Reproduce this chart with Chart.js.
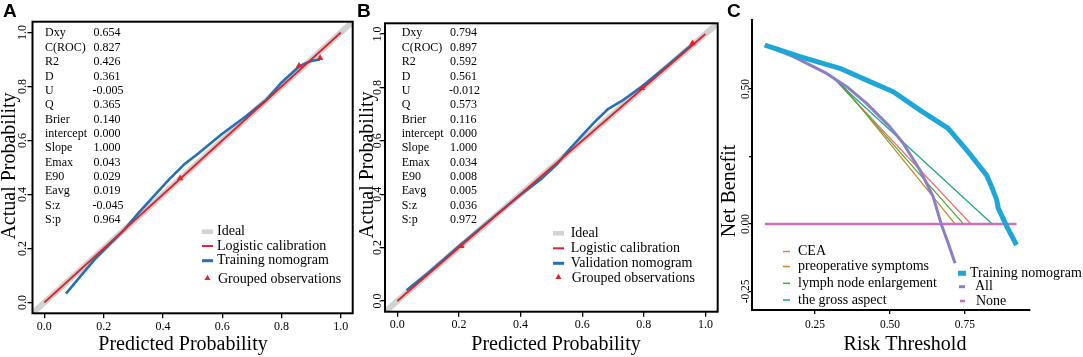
<!DOCTYPE html>
<html><head><meta charset="utf-8">
<script src="https://cdn.jsdelivr.net/npm/chart.js@4/dist/chart.umd.min.js"></script>
<style>
html,body{margin:0;padding:0;background:#fff;width:1083px;height:357px;overflow:hidden}
canvas{position:absolute;left:0;top:0}
</style></head><body>
<canvas id="cA" width="1083" height="357"></canvas>
<canvas id="cB" width="1083" height="357"></canvas>
<canvas id="cC" width="1083" height="357"></canvas>
<script>
// ================= DATA =================
// Calibration panels (A, B)
const probTicks = [0, 0.2, 0.4, 0.6, 0.8, 1.0];
const probTickLabels = ['0.0', '0.2', '0.4', '0.6', '0.8', '1.0'];
const idealPred = [-0.04, 1.04];
const idealObs = [-0.04, 1.04];
const logisticPred = [0, 1];
const logisticObs = [0, 1];

const statNames = ['Dxy', 'C(ROC)', 'R2', 'D', 'U', 'Q', 'Brier', 'intercept', 'Slope', 'Emax', 'E90', 'Eavg', 'S:z', 'S:p'];
const statsTraining = ['0.654', '0.827', '0.426', '0.361', '-0.005', '0.365', '0.140', '0.000', '1.000', '0.043', '0.029', '0.019', '-0.045', '0.964'];
const statsValidation = ['0.794', '0.897', '0.592', '0.561', '-0.012', '0.573', '0.116', '0.000', '1.000', '0.034', '0.008', '0.005', '0.036', '0.972'];

const trainPred = [0.073, 0.12, 0.17, 0.22, 0.27, 0.32, 0.37, 0.42, 0.47, 0.52, 0.60, 0.68, 0.75, 0.80, 0.86, 0.90, 0.93];
const trainObs  = [0.033, 0.095, 0.16, 0.215, 0.27, 0.335, 0.395, 0.455, 0.51, 0.553, 0.625, 0.69, 0.752, 0.815, 0.875, 0.895, 0.90];
const trainGroupPred = [0.458, 0.859, 0.93];
const trainGroupObs  = [0.46, 0.877, 0.905];

const validPred = [0.03, 0.10, 0.20, 0.30, 0.40, 0.47, 0.52, 0.56, 0.60, 0.64, 0.685, 0.73, 0.79, 0.87, 0.96];
const validObs  = [0.04, 0.105, 0.205, 0.302, 0.398, 0.46, 0.515, 0.57, 0.62, 0.67, 0.72, 0.75, 0.80, 0.875, 0.963];
const validGroupPred = [0.208, 0.794, 0.958];
const validGroupObs  = [0.206, 0.797, 0.965];

const legendA = ['Ideal', 'Logistic calibration', 'Training nomogram', 'Grouped observations'];
const legendB = ['Ideal', 'Logistic calibration', 'Validation nomogram', 'Grouped observations'];

// Decision curve panel (C)
const thrTicks = [0.25, 0.5, 0.75];
const thrTickLabels = ['0.25', '0.50', '0.75'];
const nbTicks = [-0.25, 0, 0.25, 0.5];
const nbTickLabels = ['-0.25', '0.00', '', '0.50'];

const nomoThr = [0.083, 0.20, 0.333, 0.422, 0.511, 0.60, 0.694, 0.756, 0.822, 0.839, 0.856, 0.861, 0.89, 0.922];
const nomoNB  = [0.663, 0.62, 0.577, 0.533, 0.49, 0.422, 0.354, 0.274, 0.181, 0.138, 0.089, 0.058, -0.01, -0.078];
const allThr = [0.083, 0.178, 0.289, 0.356, 0.422, 0.50, 0.544, 0.60, 0.644, 0.672, 0.694, 0.717];
const allNB  = [0.663, 0.62, 0.558, 0.509, 0.447, 0.36, 0.299, 0.20, 0.101, -0.004, -0.071, -0.146];
const noneThr = [0.083, 0.922];
const noneNB  = [0, 0];
const ceaThr = [0.083, 0.178, 0.289, 0.31, 0.77];
const ceaNB  = [0.663, 0.62, 0.558, 0.543, 0];
const preopThr = [0.083, 0.178, 0.289, 0.335, 0.717];
const preopNB  = [0.663, 0.62, 0.558, 0.524, 0];
const lymphThr = [0.083, 0.178, 0.289, 0.32, 0.745];
const lymphNB  = [0.663, 0.62, 0.558, 0.535, 0];
const grossThr = [0.083, 0.178, 0.289, 0.30, 0.841];
const grossNB  = [0.663, 0.62, 0.558, 0.552, 0];

const dcaNames = ['CEA', 'preoperative symptoms', 'lymph node enlargement', 'the gross aspect', 'Training nomogram', 'All', 'None'];

// ================= STYLE / HELPERS =================
const SERIF = "'Liberation Serif', 'DejaVu Serif', serif";
const SANS = "'Liberation Sans', Arial, sans-serif";
const RED = '#e0232b', BLUE = '#2470b5', GRAY = '#d2d2d2';
const C_COL = ['#ea776f', '#c28a2a', '#4faa3a', '#1faa82', '#1ea6d6', '#8b7fc8', '#cf6cc6'];

Chart.defaults.font.family = SERIF;
Chart.defaults.color = '#000';

const zip = (xs, ys) => xs.map((x, i) => ({x: x, y: ys[i]}));

function lineDs(label, xs, ys, color, width) {
  return {label, data: zip(xs, ys), showLine: true, borderColor: color, borderWidth: width,
          pointRadius: 0, fill: false, tension: 0, borderCapStyle: 'butt', borderJoinStyle: 'round'};
}
function triDs(label, xs, ys) {
  return {label, data: zip(xs, ys), showLine: false, pointStyle: 'triangle', pointRadius: 3.8,
          backgroundColor: RED, borderColor: RED, borderWidth: 0};
}

function drawTri(ctx, x, y, r) {
  ctx.beginPath();
  ctx.moveTo(x, y - r);
  ctx.lineTo(x + r * 0.866, y + r * 0.5);
  ctx.lineTo(x - r * 0.866, y + r * 0.5);
  ctx.closePath();
  ctx.fill();
}

function makeDeco(cfg) {
  return {
    id: 'deco' + cfg.key,
    afterDraw(chart) {
      const ctx = chart.ctx, ca = chart.chartArea;
      ctx.save();
      if (cfg.box) {
        ctx.strokeStyle = '#000'; ctx.lineWidth = 2;
        ctx.strokeRect(ca.left, ca.top, ca.right - ca.left, ca.bottom - ca.top);
      }
      ctx.fillStyle = '#000';
      // rotated y tick labels
      const ys = chart.scales.y;
      ctx.font = cfg.yTickFont + 'px ' + SERIF;
      ctx.textAlign = 'center'; ctx.textBaseline = 'middle';
      cfg.yTicks.forEach((v, i) => {
        const lab = cfg.yTickLabels[i];
        if (!lab) return;
        const py = ys.getPixelForValue(v);
        ctx.save(); ctx.translate(cfg.yTickX, py); ctx.rotate(-Math.PI / 2);
        ctx.fillText(lab, 0, 0); ctx.restore();
      });
      // axis titles
      ctx.font = '20px ' + SERIF;
      ctx.fillText(cfg.xTitle[0], cfg.xTitle[1], cfg.xTitle[2]);
      ctx.save(); ctx.translate(cfg.yTitle[1], cfg.yTitle[2]); ctx.rotate(-Math.PI / 2);
      ctx.fillText(cfg.yTitle[0], 0, 0); ctx.restore();
      // panel letter
      ctx.font = 'bold 19px ' + SANS; ctx.textAlign = 'left'; ctx.textBaseline = 'alphabetic';
      ctx.fillText(cfg.letter[0], cfg.letter[1], cfg.letter[2]);
      // stats table
      if (cfg.stats) {
        const s = cfg.stats;
        ctx.font = '12px ' + SERIF; ctx.textBaseline = 'middle'; ctx.textAlign = 'left';
        s.names.forEach((n, i) => {
          const y = s.y0 + i * s.dy;
          ctx.fillText(n, s.xName, y);
          ctx.fillText(s.values[i], s.xVal - (s.values[i][0] === '-' ? 1 : 0), y);
        });
      }
      // legend
      ctx.font = '14px ' + SERIF; ctx.textBaseline = 'middle'; ctx.textAlign = 'left';
      cfg.legend.forEach(it => {
        ctx.fillStyle = it.color; ctx.strokeStyle = it.color;
        if (it.kind === 'tri') {
          drawTri(ctx, (it.x1 + it.x2) / 2, it.y, 3.5);
        } else {
          ctx.lineWidth = it.w; ctx.lineCap = 'butt';
          ctx.beginPath(); ctx.moveTo(it.x1, it.y); ctx.lineTo(it.x2, it.y); ctx.stroke();
        }
        ctx.fillStyle = '#000';
        ctx.fillText(it.text, it.tx, it.ty);
      });
      ctx.restore();
    }
  };
}

function gridOpts(len) {
  return {drawOnChartArea: false, drawTicks: true, tickLength: len, color: '#000', tickColor: '#000', lineWidth: 1.3};
}

function calibChart(id, key, area, datasets, deco) {
  return new Chart(document.getElementById(id), {
    type: 'scatter',
    data: {datasets},
    options: {
      responsive: false, animation: false, devicePixelRatio: 1, events: [],
      layout: {padding: {left: area.left - 8, right: 1083 - area.right, top: area.top, bottom: 0}},
      plugins: {legend: {display: false}, tooltip: {enabled: false}},
      scales: {
        x: {type: 'linear', min: -0.04, max: 1.04,
            afterBuildTicks: s => { s.ticks = probTicks.map(v => ({value: v})); },
            afterFit: s => { s.height = 357 - area.bottom; },
            ticks: {font: {size: 12, family: SERIF, lineHeight: 1.2}, color: '#000', padding: 1, maxRotation: 0, minRotation: 0, autoSkip: false,
                    callback: (v) => probTickLabels[probTicks.indexOf(v)] ?? ''},
            grid: gridOpts(5), border: {display: false}},
        y: {type: 'linear', min: -0.04, max: 1.04,
            afterBuildTicks: s => { s.ticks = probTicks.map(v => ({value: v})); },
            afterFit: s => { s.width = 8; },
            ticks: {display: false},
            grid: gridOpts(area.tick), border: {display: false}}
      }
    },
    plugins: [makeDeco(deco)]
  });
}

function calibLegend(names, x1, x2, tx, ys) {
  return [
    {text: names[0], color: GRAY, kind: 'line', w: 4.5, x1, x2, y: ys[0], tx, ty: ys[0]},
    {text: names[1], color: RED, kind: 'line', w: 2, x1, x2, y: ys[1], tx, ty: ys[1]},
    {text: names[2], color: BLUE, kind: 'line', w: 3, x1, x2, y: ys[2], tx, ty: ys[2]},
    {text: names[3], color: RED, kind: 'tri', x1, x2, y: ys[3] - 1, tx: tx + 1, ty: ys[3]}
  ];
}

// ---------- Panel A ----------
calibChart('cA', 'A', {left: 32.5, right: 352.7, top: 21.7, bottom: 313.3, tick: 5}, [
  triDs(legendA[3], trainGroupPred, trainGroupObs),
  lineDs(legendA[1], logisticPred, logisticObs, RED, 1.8),
  lineDs(legendA[2], trainPred, trainObs, BLUE, 2.6),
  lineDs(legendA[0], idealPred, idealObs, GRAY, 6)
], {
  key: 'A', box: true, yTicks: probTicks, yTickLabels: probTickLabels, yTickX: 22.5, yTickFont: 12,
  xTitle: ['Predicted Probability', 183, 345], yTitle: ['Actual Probability', 10, 166],
  letter: ['A', 3, 17],
  stats: {names: statNames, values: statsTraining, xName: 45, xVal: 93.5, y0: 33.3, dy: 14.36},
  legend: calibLegend(legendA, 202, 213, 217, [231.7, 246, 260.7, 279.3])
});

// ---------- Panel B ----------
calibChart('cB', 'B', {left: 385, right: 717.7, top: 23.3, bottom: 311.7, tick: 4}, [
  triDs(legendB[3], validGroupPred, validGroupObs),
  lineDs(legendB[1], logisticPred, logisticObs, RED, 1.8),
  lineDs(legendB[2], validPred, validObs, BLUE, 2.6),
  lineDs(legendB[0], idealPred, idealObs, GRAY, 6)
], {
  key: 'B', box: true, yTicks: probTicks, yTickLabels: probTickLabels, yTickX: 377.5, yTickFont: 12,
  xTitle: ['Predicted Probability', 556, 345], yTitle: ['Actual Probability', 368, 165],
  letter: ['B', 357, 17],
  stats: {names: statNames, values: statsValidation, xName: 401.7, xVal: 450, y0: 33.3, dy: 14.36},
  legend: calibLegend(legendB, 553, 564, 570.7, [233.3, 248.3, 263.3, 278.3])
});

// ---------- Panel C ----------
const cArea = {left: 752, right: 1030, top: 20, bottom: 310};
new Chart(document.getElementById('cC'), {
  type: 'scatter',
  data: {datasets: [
    lineDs(dcaNames[4], nomoThr, nomoNB, C_COL[4], 5),
    lineDs(dcaNames[5], allThr, allNB, C_COL[5], 3),
    lineDs(dcaNames[6], noneThr, noneNB, C_COL[6], 2.5),
    lineDs(dcaNames[3], grossThr, grossNB, C_COL[3], 1.3),
    lineDs(dcaNames[2], lymphThr, lymphNB, C_COL[2], 1.3),
    lineDs(dcaNames[0], ceaThr, ceaNB, C_COL[0], 1.3),
    lineDs(dcaNames[1], preopThr, preopNB, C_COL[1], 1.3)
  ]},
  options: {
    responsive: false, animation: false, devicePixelRatio: 1, events: [],
    layout: {padding: {left: cArea.left - 4, right: 1083 - cArea.right, top: cArea.top, bottom: 0}},
    plugins: {legend: {display: false}, tooltip: {enabled: false}},
    scales: {
      x: {type: 'linear', min: 0.04, max: 0.967,
          afterBuildTicks: s => { s.ticks = thrTicks.map(v => ({value: v})); },
          afterFit: s => { s.height = 357 - cArea.bottom; },
          ticks: {font: {size: 11.5, family: SERIF, lineHeight: 1.2}, color: '#000', padding: 4, maxRotation: 0, minRotation: 0, autoSkip: false,
                  callback: (v) => thrTickLabels[thrTicks.indexOf(v)] ?? ''},
          grid: gridOpts(4), border: {display: true, color: '#000', width: 2}},
      y: {type: 'linear', min: -0.319, max: 0.756,
          afterBuildTicks: s => { s.ticks = nbTicks.map(v => ({value: v})); },
          afterFit: s => { s.width = 4; },
          ticks: {display: false},
          grid: gridOpts(3), border: {display: true, color: '#000', width: 2}}
    }
  },
  plugins: [makeDeco({
    key: 'C', box: false, yTicks: nbTicks, yTickLabels: nbTickLabels, yTickX: 745.5, yTickFont: 11.5,
    xTitle: ['Risk Threshold', 905, 345], yTitle: ['Net Benefit', 730, 191],
    letter: ['C', 727, 17],
    legend: [
      {text: dcaNames[0], color: C_COL[0], kind: 'line', w: 1.5, x1: 783, x2: 790, y: 251.5, tx: 798, ty: 251.5},
      {text: dcaNames[1], color: C_COL[1], kind: 'line', w: 1.5, x1: 783, x2: 790, y: 266.5, tx: 798, ty: 266.5},
      {text: dcaNames[2], color: C_COL[2], kind: 'line', w: 1.5, x1: 783, x2: 790, y: 283.3, tx: 798, ty: 283.3},
      {text: dcaNames[3], color: C_COL[3], kind: 'line', w: 1.5, x1: 783, x2: 790, y: 300, tx: 798, ty: 300},
      {text: dcaNames[4], color: C_COL[4], kind: 'line', w: 5, x1: 958, x2: 966, y: 273.3, tx: 970, ty: 273.3},
      {text: dcaNames[5], color: C_COL[5], kind: 'line', w: 3, x1: 959, x2: 965, y: 286.7, tx: 975, ty: 286.7},
      {text: dcaNames[6], color: C_COL[6], kind: 'line', w: 2.5, x1: 960, x2: 965, y: 301, tx: 976, ty: 301.5}
    ]
  })]
});
</script>
</body></html>
